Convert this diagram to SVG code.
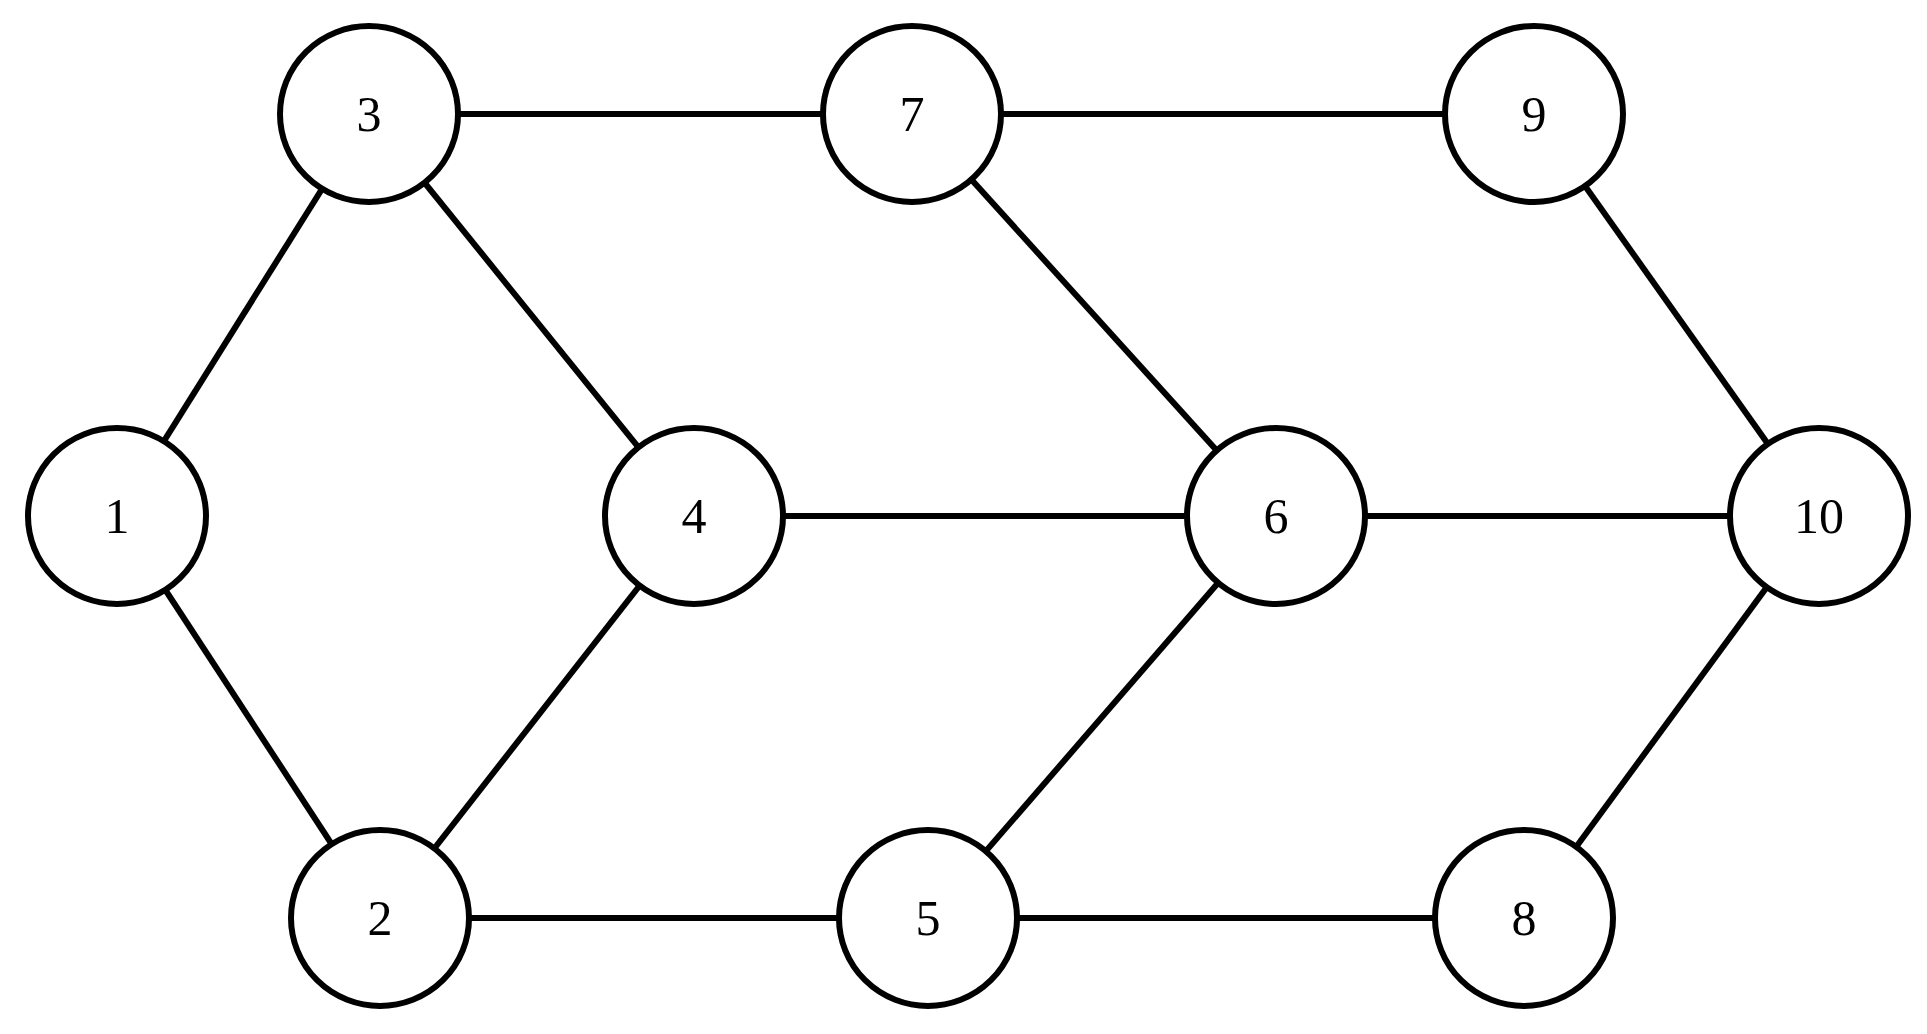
<svg xmlns="http://www.w3.org/2000/svg" width="1927" height="1034" viewBox="0 0 1927 1034">
<style>
.e line{stroke:#000;stroke-width:6}
.n ellipse{fill:#fff;stroke:#000;stroke-width:6}
.n text{font-family:"Liberation Serif",serif;font-size:50px;text-anchor:middle;dominant-baseline:central}
</style>
<rect width="1927" height="1034" fill="#fff"/>
<g class="e" id="edges">
<line x1="117" y1="516" x2="369" y2="114"/>
<line x1="117" y1="516" x2="380" y2="918"/>
<line x1="369" y1="114" x2="912" y2="114"/>
<line x1="369" y1="114" x2="694" y2="516"/>
<line x1="912" y1="114" x2="1534" y2="114"/>
<line x1="912" y1="114" x2="1276" y2="516"/>
<line x1="1534" y1="114" x2="1819" y2="516"/>
<line x1="694" y1="516" x2="1276" y2="516"/>
<line x1="380" y1="918" x2="694" y2="516"/>
<line x1="1276" y1="516" x2="1819" y2="516"/>
<line x1="1276" y1="516" x2="928" y2="918"/>
<line x1="380" y1="918" x2="928" y2="918"/>
<line x1="928" y1="918" x2="1524" y2="918"/>
<line x1="1524" y1="918" x2="1819" y2="516"/>
</g>
<g class="n" id="n1"><ellipse cx="117" cy="516" rx="89" ry="88"/><text x="117" y="516">1</text></g>
<g class="n" id="n2"><ellipse cx="380" cy="918" rx="89" ry="88"/><text x="380" y="918">2</text></g>
<g class="n" id="n3"><ellipse cx="369" cy="114" rx="89" ry="88"/><text x="369" y="114">3</text></g>
<g class="n" id="n4"><ellipse cx="694" cy="516" rx="89" ry="88"/><text x="694" y="516">4</text></g>
<g class="n" id="n5"><ellipse cx="928" cy="918" rx="89" ry="88"/><text x="928" y="918">5</text></g>
<g class="n" id="n6"><ellipse cx="1276" cy="516" rx="89" ry="88"/><text x="1276" y="516">6</text></g>
<g class="n" id="n7"><ellipse cx="912" cy="114" rx="89" ry="88"/><text x="912" y="114">7</text></g>
<g class="n" id="n8"><ellipse cx="1524" cy="918" rx="89" ry="88"/><text x="1524" y="918">8</text></g>
<g class="n" id="n9"><ellipse cx="1534" cy="114" rx="89" ry="88"/><text x="1534" y="114">9</text></g>
<g class="n" id="n10"><ellipse cx="1819" cy="516" rx="89" ry="88"/><text x="1819" y="516">10</text></g>
</svg>
